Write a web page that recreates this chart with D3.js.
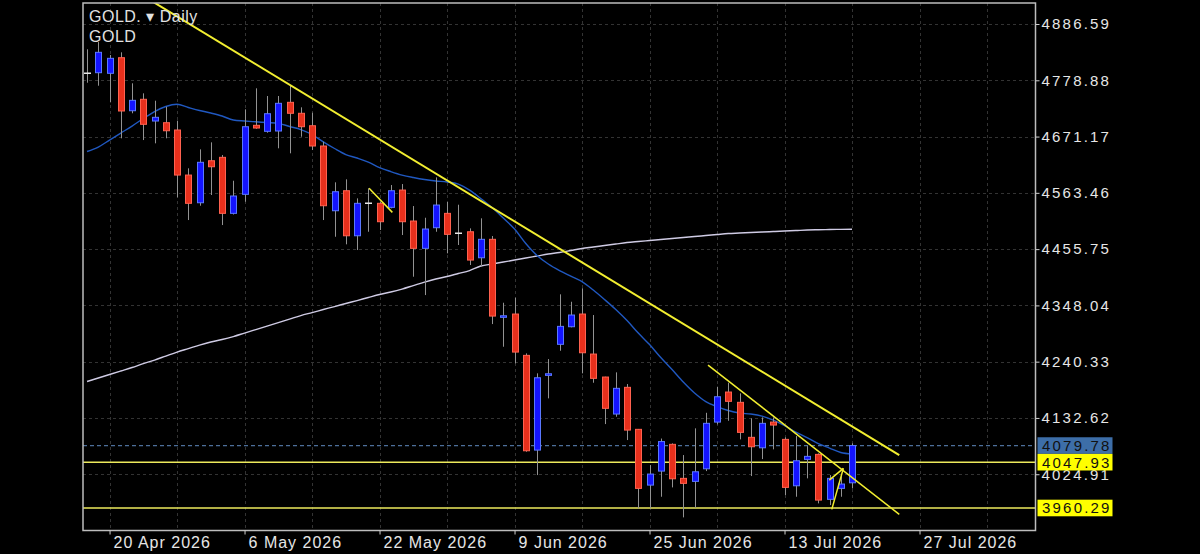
<!DOCTYPE html>
<html>
<head>
<meta charset="utf-8">
<script src="https://cdn.jsdelivr.net/npm/d3@7"></script>
<style>
body { margin: 0; background: #000; overflow: hidden; }
text { font-family: "Liberation Sans", Arial, sans-serif; }
</style>
</head>
<body>
<svg id="chart" width="1200" height="554"></svg>
<script>

// daily bars, index 0 = 16 Apr 2026
var opens = [4792.2,4793.4,4792.2,4822.1,4720.6,4742.5,4700.9,4697.7,4683.7,4597.5,
	4544.5,4624.9,4631.4,4524.2,4560.6,4692.7,4681.2,4681.8,4736.7,4715.7,
	4691.9,4653.1,4529.2,4567.5,4481.3,4543.4,4543.4,4535.7,4568.8,4509.5,
	4457.2,4496.7,4524.2,4486.0,4489.0,4439.2,4474.5,4325.2,4331.5,4252.4,
	4071.1,4214.1,4273.5,4307.2,4331.5,4254.9,4210.9,4140.1,4191.2,4110.8,
	4004.1,4030.9,4082.1,4017.0,4011.2,4035.3,4124.7,4182.2,4162.5,4095.5,
	4075.5,4124.7,4091.6,4002.8,4053.3,4062.9,3976.8,3997.8,4008.5];
var highs = [4838.2,4852.1,4827.3,4832.4,4773.1,4753.9,4739.8,4728.3,4701.5,4610.4,
	4646.7,4660.1,4635.8,4586.6,4723.3,4763.5,4748.8,4748.8,4769.8,4727.1,
	4716.8,4661.3,4583.6,4589.3,4552.9,4572.1,4546.4,4578.4,4580.3,4538.2,
	4515.8,4593.1,4545.9,4540.7,4495.5,4514.7,4480.8,4353.1,4362.7,4256.2,
	4218.0,4245.3,4369.2,4355.0,4380.7,4329.6,4211.5,4219.9,4197.5,4111.5,
	4042.4,4093.2,4084.0,4061.6,4112.7,4142.5,4192.3,4200.0,4179.7,4131.8,
	4133.7,4133.7,4095.5,4097.9,4078.8,4064.8,4023.3,4023.3,4084.0];
var lows = [4774.2,4768.5,4736.7,4667.8,4715.7,4664.5,4658.2,4667.8,4554.9,4511.4,
	4538.8,4559.3,4501.8,4522.0,4546.4,4686.0,4678.5,4648.7,4639.1,4670.9,
	4645.4,4511.4,4479.4,4464.9,4454.0,4489.0,4492.3,4533.8,4482.7,4402.9,
	4367.8,4489.0,4447.7,4463.6,4425.3,4422.0,4312.3,4268.9,4237.1,4067.9,
	4023.3,4170.1,4261.2,4306.0,4218.0,4200.0,4120.9,4134.9,4090.3,3959.5,
	3959.5,3981.8,3999.7,3942.3,3960.7,4030.9,4120.3,4127.2,4091.6,4021.4,
	4053.9,4072.5,3985.0,3981.8,4017.0,3969.1,3965.9,3981.8,3997.8];
var closes = [4792.2,4832.4,4820.9,4720.1,4740.5,4694.6,4708.0,4682.3,4597.5,4543.4,
	4621.9,4613.4,4524.2,4557.4,4690.0,4687.5,4714.9,4734.8,4715.7,4690.0,
	4653.1,4538.8,4565.6,4481.3,4543.4,4543.4,4508.2,4567.5,4508.2,4457.2,
	4494.2,4540.1,4484.0,4486.0,4434.8,4474.5,4327.6,4328.2,4258.7,4069.8,
	4209.5,4217.2,4307.9,4329.6,4257.4,4208.4,4151.0,4189.3,4109.4,3997.8,
	4025.2,4087.4,4016.2,4007.4,4029.6,4122.3,4173.2,4164.4,4105.0,4077.5,
	4122.3,4119.0,3999.7,4050.7,4059.1,3975.4,4017.0,4006.1,4079.78];

// moving averages (blue = fast, grey = slow)
var maFast = [4642.5,4651.1,4664.5,4677.9,4691.3,4705.7,4719.1,4728.7,4732.9,4726.8,
	4721.0,4716.2,4710.5,4702.8,4700.9,4699.4,4698.0,4696.5,4690.4,4684.6,
	4675.1,4661.1,4648.3,4636.8,4630.1,4622.4,4611.9,4604.2,4597.5,4592.8,
	4588.9,4586.1,4584.2,4580.3,4568.8,4552.6,4535.3,4515.2,4494.2,4466.4,
	4443.5,4427.2,4414.7,4404.2,4393.7,4377.4,4359.2,4340.1,4319.0,4295.1,
	4273.1,4248.2,4225.2,4201.3,4180.3,4164.0,4154.4,4146.8,4142.0,4140.1,
	4136.2,4128.6,4118.0,4105.6,4095.1,4083.6,4075.0,4066.4,4063.5];
var maSlow = [4202.3,4209.0,4215.7,4222.4,4229.1,4236.7,4243.4,4251.1,4258.7,4265.4,
	4272.1,4277.9,4282.7,4288.4,4295.1,4301.8,4308.5,4315.2,4321.9,4328.6,
	4334.3,4340.1,4345.8,4351.6,4357.3,4363.1,4368.8,4373.6,4379.3,4386.0,
	4392.7,4398.5,4403.3,4409.0,4414.7,4423.4,4427.2,4431.0,4434.8,4438.7,
	4442.5,4446.3,4449.2,4453.0,4456.9,4459.7,4462.6,4465.5,4468.3,4470.3,
	4472.2,4474.1,4476.0,4477.9,4479.8,4481.7,4483.7,4485.6,4486.5,4487.5,
	4488.4,4489.4,4490.4,4491.3,4492.3,4492.8,4493.2,4493.6,4493.8];

var dateTicks = [2, 14, 26, 38, 50, 62, 74];
var dateLabels = ["20 Apr 2026", "6 May 2026", "22 May 2026", "9 Jun 2026", "25 Jun 2026", "13 Jul 2026", "27 Jul 2026"];
var gridBars = [2, 8, 14, 20, 26, 32, 38, 44, 50, 56, 62, 68, 74, 80];
var priceTicks = [4886.59, 4778.88, 4671.17, 4563.46, 4455.75, 4348.04, 4240.33, 4132.62, 4024.91];

var bidPrice = 4079.78;
var levels = [4047.93, 3960.29];

// trend lines drawn on the chart: [bar, price] pairs
var trendLines = [
	[[5.6, 4932.5], [72.2, 4061.6]],
	[[25.07, 4572.1], [27.14, 4526.1]],
	[[55.2, 4233.8], [72.2, 3948.1]],
	[[66.2, 3957.6], [67.23, 4036.1]],
	[[65.98, 4013.7], [67.23, 4036.1]]
];

var W = 1200, H = 554;
var plotL = 83, plotR = 1035.5, plotT = 3, plotB = 530.5;

var svg = d3.select("#chart");
svg.append("rect").attr("width", W).attr("height", H).attr("fill", "#000");

var x = d3.scaleLinear().domain([-0.36, 84.31]).range([plotL, plotR]);
var y = d3.scaleLinear().domain([3917.2, 4926.8]).range([plotB, plotT]);

svg.append("clipPath").attr("id", "plotclip")
	.append("rect").attr("x", plotL).attr("y", plotT)
	.attr("width", plotR - plotL).attr("height", plotB - plotT);

var plot = svg.append("g").attr("clip-path", "url(#plotclip)");

// grid
plot.selectAll("line.vg")
	.data(gridBars)
	.enter()
	.append("line")
	.attr("class", "vg")
	.attr("x1", function(d) { return Math.round(x(d)) + 0.5; })
	.attr("x2", function(d) { return Math.round(x(d)) + 0.5; })
	.attr("y1", plotT).attr("y2", plotB)
	.attr("stroke", "#333")
	.attr("stroke-dasharray", "3,3");

plot.selectAll("line.hg")
	.data(priceTicks)
	.enter()
	.append("line")
	.attr("class", "hg")
	.attr("x1", plotL).attr("x2", plotR)
	.attr("y1", function(d) { return Math.round(y(d)) + 0.5; })
	.attr("y2", function(d) { return Math.round(y(d)) + 0.5; })
	.attr("stroke", "#333")
	.attr("stroke-dasharray", "3,3");

// bid line
plot.append("line")
	.attr("x1", plotL).attr("x2", plotR)
	.attr("y1", y(bidPrice)).attr("y2", y(bidPrice))
	.attr("stroke", "#4d6f9a")
	.attr("stroke-width", 1.2)
	.attr("stroke-dasharray", "4,3");

// horizontal levels
plot.selectAll("line.lvl")
	.data(levels)
	.enter()
	.append("line")
	.attr("class", "lvl")
	.attr("x1", plotL).attr("x2", plotR)
	.attr("y1", function(d) { return y(d); })
	.attr("y2", function(d) { return y(d); })
	.attr("stroke", "#ecea5c")
	.attr("stroke-width", 1.6);

// moving averages
var maLine = d3.line()
	.x(function(d, i) { return x(i); })
	.y(function(d) { return y(d); })
	.curve(d3.curveMonotoneX);

plot.append("path")
	.attr("d", maLine(maSlow))
	.attr("fill", "none")
	.attr("stroke", "#cfcbe4")
	.attr("stroke-width", 1.4);

plot.append("path")
	.attr("d", maLine(maFast))
	.attr("fill", "none")
	.attr("stroke", "#2058c0")
	.attr("stroke-width", 1.4);

// candles
var bars = d3.range(opens.length);
var bullFill = "#1414ff", bullEdge = "#5a78ff";
var bearFill = "#e8301c", bearEdge = "#ff6250";

plot.selectAll("line.wick")
	.data(bars)
	.enter()
	.append("line")
	.attr("class", "wick")
	.attr("x1", function(i) { return Math.round(x(i)) + 0.5; })
	.attr("x2", function(i) { return Math.round(x(i)) + 0.5; })
	.attr("y1", function(i) { return y(highs[i]); })
	.attr("y2", function(i) { return y(lows[i]); })
	.attr("stroke", "#929292")
	.attr("stroke-width", 1);

plot.selectAll("rect.body")
	.data(bars.filter(function(i) { return opens[i] != closes[i]; }))
	.enter()
	.append("rect")
	.attr("class", "body")
	.attr("x", function(i) { return Math.round(x(i)) - 2.5; })
	.attr("y", function(i) { return y(Math.max(opens[i], closes[i])); })
	.attr("width", 6)
	.attr("height", function(i) { return Math.max(1.5, Math.abs(y(opens[i]) - y(closes[i]))); })
	.attr("fill", function(i) { return closes[i] > opens[i] ? bullFill : bearFill; })
	.attr("stroke", function(i) { return closes[i] > opens[i] ? bullEdge : bearEdge; })
	.attr("stroke-width", 1);

plot.selectAll("line.doji")
	.data(bars.filter(function(i) { return opens[i] == closes[i]; }))
	.enter()
	.append("line")
	.attr("class", "doji")
	.attr("x1", function(i) { return Math.round(x(i)) - 3; })
	.attr("x2", function(i) { return Math.round(x(i)) + 4; })
	.attr("y1", function(i) { return y(opens[i]); })
	.attr("y2", function(i) { return y(opens[i]); })
	.attr("stroke", "#e8e8e8")
	.attr("stroke-width", 1.5);

// trend lines
plot.selectAll("line.trend")
	.data(trendLines)
	.enter()
	.append("line")
	.attr("class", "trend")
	.attr("x1", function(d) { return x(d[0][0]); })
	.attr("y1", function(d) { return y(d[0][1]); })
	.attr("x2", function(d) { return x(d[1][0]); })
	.attr("y2", function(d) { return y(d[1][1]); })
	.attr("stroke", "#f2ee30")
	.attr("stroke-width", function(d, i) { return i == 0 ? 2 : 1.5; });

// frame
svg.append("rect")
	.attr("x", plotL).attr("y", plotT)
	.attr("width", plotR - plotL).attr("height", plotB - plotT)
	.attr("fill", "none")
	.attr("stroke", "#bdbdbd")
	.attr("stroke-width", 1.5);

// price axis
var yAxis = svg.append("g")
	.attr("transform", "translate(" + plotR + ",0)")
	.call(d3.axisRight(y).tickValues(priceTicks).tickFormat(d3.format(".2f")).tickSize(4).tickPadding(2));
yAxis.select(".domain").remove();
yAxis.selectAll("line").attr("stroke", "#cfcfcf");
yAxis.selectAll("text")
	.attr("fill", "#e6e6e6")
	.attr("font-size", 15)
	.attr("letter-spacing", "2.2px")
	.attr("font-family", "Liberation Sans, Arial, sans-serif");

// time axis
var xAxis = svg.append("g")
	.attr("transform", "translate(0," + plotB + ")")
	.call(d3.axisBottom(x).tickValues(dateTicks).tickFormat(function(d, i) { return dateLabels[i]; }).tickSize(4));
xAxis.select(".domain").remove();
xAxis.selectAll("line").attr("stroke", "#cfcfcf");
xAxis.selectAll("text")
	.attr("fill", "#e6e6e6")
	.attr("font-size", 16)
	.attr("letter-spacing", "1px")
	.attr("font-family", "Liberation Sans, Arial, sans-serif")
	.attr("text-anchor", "start")
	.attr("x", 3.5)
	.attr("y", 17.5)
	.attr("dy", 0);

// price tags on the right
var tags = [
	{ price: bidPrice, fill: "#3d6ea8" },
	{ price: levels[0], fill: "#ffff00" },
	{ price: levels[1], fill: "#ffff00" }
];

var tag = svg.selectAll("g.tag")
	.data(tags)
	.enter()
	.append("g")
	.attr("class", "tag")
	.attr("transform", function(d) { return "translate(" + (plotR + 2) + "," + y(d.price) + ")"; });

tag.append("rect")
	.attr("x", 0).attr("y", -8.3)
	.attr("width", 75).attr("height", 16.6)
	.attr("fill", function(d) { return d.fill; });

tag.append("text")
	.attr("x", 4.5).attr("y", 0)
	.attr("dy", "0.36em")
	.attr("fill", "#111")
	.attr("font-size", 15)
	.attr("letter-spacing", "2.2px")
	.text(function(d) { return d3.format(".2f")(d.price); });

// symbol header
svg.append("text")
	.attr("x", 89).attr("y", 21.5)
	.attr("fill", "#e2e2e2")
	.attr("font-size", 16)
	.attr("letter-spacing", "0.5px")
	.text("GOLD. \u25BE Daily");

svg.append("text")
	.attr("x", 89).attr("y", 41.5)
	.attr("fill", "#e2e2e2")
	.attr("font-size", 16)
	.attr("letter-spacing", "0.5px")
	.text("GOLD");

</script>
</body>
</html>
